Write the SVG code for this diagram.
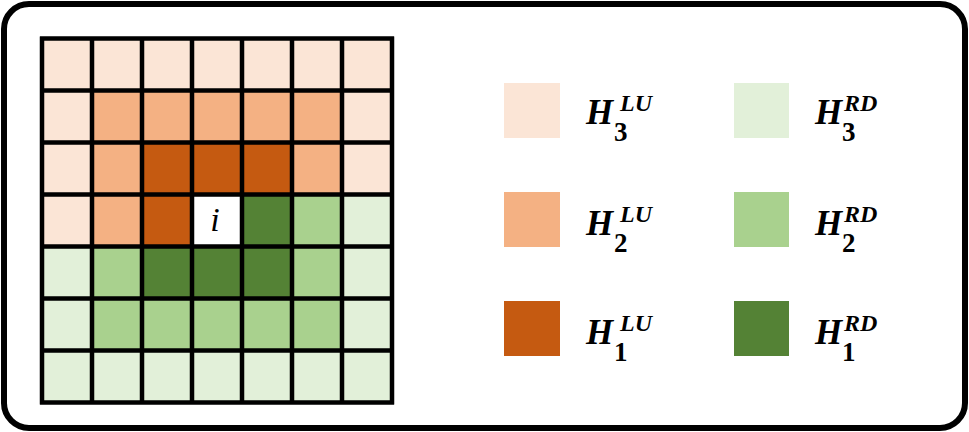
<svg xmlns="http://www.w3.org/2000/svg" width="969" height="432" viewBox="0 0 969 432">
<style>
.l1{fill:#FBE5D6}.l2{fill:#F4B183}.l3{fill:#C55A11}
.g1{fill:#E2F0D9}.g2{fill:#A9D18E}.g3{fill:#548235}
.w{fill:#FFFFFF}
.H{font-family:"Liberation Serif",serif;font-weight:bold;font-style:italic;font-size:35px;fill:#000}
.sup{font-family:"Liberation Serif",serif;font-weight:bold;font-style:italic;font-size:24px;fill:#000}
.sub{font-family:"Liberation Serif",serif;font-weight:bold;font-size:27px;fill:#000}
</style>
<rect x="4" y="4" width="961" height="424" rx="25" ry="25" fill="#FFFFFF" stroke="#000" stroke-width="6"/>
<g id="grid">
<g id="row0">
<rect class="l1" x="42" y="38.5" width="50" height="52"/><rect class="l1" x="92" y="38.5" width="50" height="52"/><rect class="l1" x="142" y="38.5" width="50" height="52"/><rect class="l1" x="192" y="38.5" width="50" height="52"/><rect class="l1" x="242" y="38.5" width="50" height="52"/><rect class="l1" x="292" y="38.5" width="50" height="52"/><rect class="l1" x="342" y="38.5" width="50" height="52"/>
</g>
<g id="row1">
<rect class="l1" x="42" y="90.5" width="50" height="52"/><rect class="l2" x="92" y="90.5" width="50" height="52"/><rect class="l2" x="142" y="90.5" width="50" height="52"/><rect class="l2" x="192" y="90.5" width="50" height="52"/><rect class="l2" x="242" y="90.5" width="50" height="52"/><rect class="l2" x="292" y="90.5" width="50" height="52"/><rect class="l1" x="342" y="90.5" width="50" height="52"/>
</g>
<g id="row2">
<rect class="l1" x="42" y="142.5" width="50" height="52"/><rect class="l2" x="92" y="142.5" width="50" height="52"/><rect class="l3" x="142" y="142.5" width="50" height="52"/><rect class="l3" x="192" y="142.5" width="50" height="52"/><rect class="l3" x="242" y="142.5" width="50" height="52"/><rect class="l2" x="292" y="142.5" width="50" height="52"/><rect class="l1" x="342" y="142.5" width="50" height="52"/>
</g>
<g id="row3">
<rect class="l1" x="42" y="194.5" width="50" height="52"/><rect class="l2" x="92" y="194.5" width="50" height="52"/><rect class="l3" x="142" y="194.5" width="50" height="52"/><rect class="w" x="192" y="194.5" width="50" height="52"/><rect class="g3" x="242" y="194.5" width="50" height="52"/><rect class="g2" x="292" y="194.5" width="50" height="52"/><rect class="g1" x="342" y="194.5" width="50" height="52"/>
</g>
<g id="row4">
<rect class="g1" x="42" y="246.5" width="50" height="52"/><rect class="g2" x="92" y="246.5" width="50" height="52"/><rect class="g3" x="142" y="246.5" width="50" height="52"/><rect class="g3" x="192" y="246.5" width="50" height="52"/><rect class="g3" x="242" y="246.5" width="50" height="52"/><rect class="g2" x="292" y="246.5" width="50" height="52"/><rect class="g1" x="342" y="246.5" width="50" height="52"/>
</g>
<g id="row5">
<rect class="g1" x="42" y="298.5" width="50" height="52"/><rect class="g2" x="92" y="298.5" width="50" height="52"/><rect class="g2" x="142" y="298.5" width="50" height="52"/><rect class="g2" x="192" y="298.5" width="50" height="52"/><rect class="g2" x="242" y="298.5" width="50" height="52"/><rect class="g2" x="292" y="298.5" width="50" height="52"/><rect class="g1" x="342" y="298.5" width="50" height="52"/>
</g>
<g id="row6">
<rect class="g1" x="42" y="350.5" width="50" height="52"/><rect class="g1" x="92" y="350.5" width="50" height="52"/><rect class="g1" x="142" y="350.5" width="50" height="52"/><rect class="g1" x="192" y="350.5" width="50" height="52"/><rect class="g1" x="242" y="350.5" width="50" height="52"/><rect class="g1" x="292" y="350.5" width="50" height="52"/><rect class="g1" x="342" y="350.5" width="50" height="52"/>
</g>
<path d="M42 36.5V404.5M92 36.5V404.5M142 36.5V404.5M192 36.5V404.5M242 36.5V404.5M292 36.5V404.5M342 36.5V404.5M392 36.5V404.5M40 38.5H394M40 90.5H394M40 142.5H394M40 194.5H394M40 246.5H394M40 298.5H394M40 350.5H394M40 402.5H394" stroke="#000" stroke-width="4.5" fill="none"/>
<text x="215" y="231" font-family="'Liberation Serif',serif" font-style="italic" font-size="34" text-anchor="middle">i</text>
</g>
<g id="legend-lu3">
<rect class="l1" x="504" y="83" width="56" height="55"/>
<text class="H" x="586" y="124">H</text>
<text class="sup" x="620" y="111">LU</text>
<text class="sub" x="614" y="141">3</text>
</g>
<g id="legend-lu2">
<rect class="l2" x="504" y="192" width="56" height="55"/>
<text class="H" x="586" y="235">H</text>
<text class="sup" x="620" y="222">LU</text>
<text class="sub" x="614" y="252">2</text>
</g>
<g id="legend-lu1">
<rect class="l3" x="504" y="301" width="56" height="55"/>
<text class="H" x="586" y="344">H</text>
<text class="sup" x="620" y="331">LU</text>
<text class="sub" x="614" y="361">1</text>
</g>
<g id="legend-rd3">
<rect class="g1" x="734" y="83" width="55" height="55"/>
<text class="H" x="815" y="124">H</text>
<text class="sup" x="844" y="111">RD</text>
<text class="sub" x="842" y="141">3</text>
</g>
<g id="legend-rd2">
<rect class="g2" x="734" y="192" width="55" height="55"/>
<text class="H" x="815" y="235">H</text>
<text class="sup" x="844" y="222">RD</text>
<text class="sub" x="842" y="252">2</text>
</g>
<g id="legend-rd1">
<rect class="g3" x="734" y="301" width="55" height="55"/>
<text class="H" x="815" y="344">H</text>
<text class="sup" x="844" y="331">RD</text>
<text class="sub" x="842" y="361">1</text>
</g>
</svg>
